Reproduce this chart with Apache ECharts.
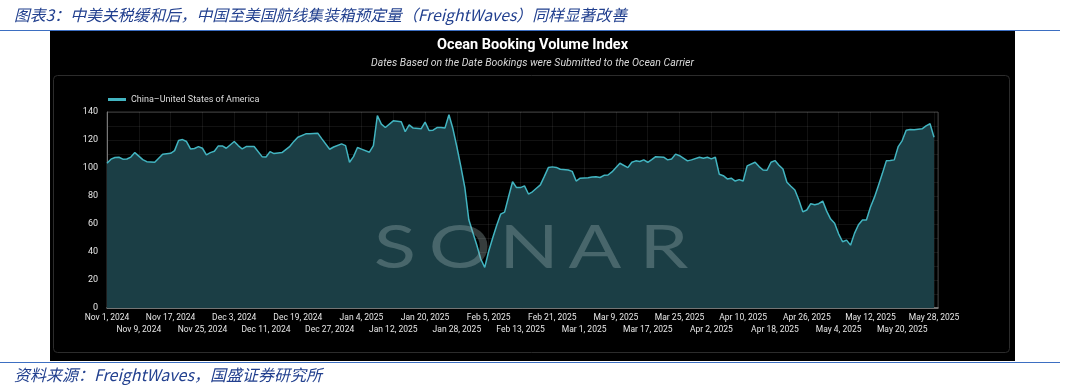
<!DOCTYPE html>
<html><head><meta charset="utf-8">
<script src="https://cdn.jsdelivr.net/npm/echarts@6/dist/echarts.min.js"></script>
<style>html,body{margin:0;padding:0;background:#fff}#c{width:1065px;height:388px}</style>
</head><body><div id="c"></div>
<script>
const captionText = '图表3：中美关税缓和后，中国至美国航线集装箱预定量（FreightWaves）同样显著改善';
const sourceText = '资料来源：FreightWaves，国盛证券研究所';
const chartTitle = 'Ocean Booking Volume Index';
const chartSubtitle = 'Dates Based on the Date Bookings were Submitted to the Ocean Carrier';
const seriesName = 'China–United States of America';
// day offsets from Nov 1, 2024
const days = [0,1,2,3,4,5,6,7,8,9,10,12,14,16,17,18,19,20,21,22,23,24,25,26,27,28,29,30,32,33,34,35,37,39,40,41,42,44,46,47,48,50,51,53,54,56,57,59,60,61,62,63,64,66,67,68,69,70,72,74,75,76,77,79,80,81,82,83,84,85,86,87,88,89,90,91,92,93,94,95,96,97,98,99,100,101,102,103,104,105,106,107,108,109,110,111,112,113,114,116,117,118,119,121,122,123,124,125,126,127,129,131,132,133,134,135,136,137,138,140,141,142,143,144,146,147,149,150,151,152,153,154,155,156,157,158,159,160,161,163,164,165,166,167,168,169,170,171,172,173,174,175,176,177,178,179,180,181,182,183,184,185,186,187,188,189,190,191,192,193,194,195,196,197,198,199,200,201,202,203,204,205,206,207,208];
const values = [103.4,106.3,107.5,107.7,106.3,106.4,107.8,111,108.5,106,104.5,104.1,109.8,110.5,112.4,119.6,120.3,118.9,113.6,113.9,115.3,114.1,109.4,111,112,115.8,115.8,114.1,118.9,116,113.6,115.3,115.3,108.1,107.9,111.7,110.3,111,115.5,119,122,124.4,124.4,124.9,121,113.4,115,117.2,116,104.1,108.1,114.6,113.5,111.3,116,137.5,131.3,128.9,133.7,133,126,130.8,128.5,128,132.8,126.8,127,128.9,129,128.5,138,128,115,101,86,63,54,45,35,29,40.5,50,59,67,68.5,79.5,90.2,86,86,87.2,81.4,83,85.5,87.9,94,100.3,100.8,100.4,99.1,98.6,97.6,90.7,92.7,93.1,93.6,93.8,93.2,94.8,95,97.2,103.4,100.3,104.1,105.1,104.6,105.8,104.1,106,108.1,107.7,105.8,106.5,109.9,108.8,105.1,105.8,107.7,107,107.7,106.5,107.7,95.5,94.5,92.2,92.7,90.7,91.7,90.7,101.5,104.1,101,98.6,98.4,104.1,105.3,102,99.3,89.8,87,84.3,77.1,68.7,70,74.5,73.8,74.5,76.4,69.2,63.5,60.5,53,47.3,48.5,44.9,53.3,59.5,62.8,62.8,72,79,87.4,96,105.1,105.4,105.8,115.3,119.6,127,127.5,127.3,127.7,128,130.1,131.6,122];
const xTickLabels = ['Nov 1, 2024','Nov 9, 2024','Nov 17, 2024','Nov 25, 2024','Dec 3, 2024','Dec 11, 2024','Dec 19, 2024','Dec 27, 2024','Jan 4, 2025','Jan 12, 2025','Jan 20, 2025','Jan 28, 2025','Feb 5, 2025','Feb 13, 2025','Feb 21, 2025','Mar 1, 2025','Mar 9, 2025','Mar 17, 2025','Mar 25, 2025','Apr 2, 2025','Apr 10, 2025','Apr 18, 2025','Apr 26, 2025','May 4, 2025','May 12, 2025','May 20, 2025','May 28, 2025'];
const watermarkLetters = ['S','O','N','A','R'];

const labelFont = 'Roboto, sans-serif';
const chart = echarts.init(document.getElementById('c'), null, {renderer:'canvas'});
const wmX = [395, 460, 529, 595, 664];

function xLabelFor(parity) {
  return function (v) {
    if (v % 8) return '';
    const k = v / 8;
    return (k % 2 === parity) ? (xTickLabels[k] || '') : '';
  };
}
function makeXAxis(parity, offset, main) {
  return {
    type:'value', min:0, max:209, interval:8, position:'bottom', offset: offset,
    axisLine:{show: main, onZero:false, lineStyle:{color:'#8c8c8c', width:1.5}},
    axisTick:{show:false},
    splitLine:{show: main, lineStyle:{color:'rgba(255,255,255,0.07)', width:1}},
    axisLabel:{
      color:'#e6e6e6', fontSize:8.5, fontFamily: labelFont, margin:5,
      showMinLabel:true, showMaxLabel:true, hideOverlap:false,
      formatter: xLabelFor(parity)
    }
  };
}
const option = {
  backgroundColor: '#ffffff',
  animation: false,
  title: {
    text: chartTitle, subtext: chartSubtitle, left: 'center', top: 33, itemGap: 5,
    textStyle: {color:'#ffffff', fontSize:14.5, fontWeight:'bold', fontFamily: labelFont},
    subtextStyle: {color:'#d8d8d8', fontSize:10.5, fontStyle:'italic', fontFamily: labelFont}
  },
  legend: {
    data: [seriesName], left: 103, top: 90, icon: 'rect', itemWidth: 18, itemHeight: 3, itemGap: 6,
    textStyle: {color:'#dddddd', fontSize:9, fontFamily: labelFont}
  },
  grid: {left:107, right:127, top:112, bottom:80, show:true, borderColor:'#3a3a3a', borderWidth:1, backgroundColor:'transparent'},
  xAxis: [makeXAxis(0, 0, true), makeXAxis(1, 12, false)],
  yAxis: {
    type:'value', min:0, max:140, interval:10,
    axisLine:{show:true, lineStyle:{color:'#777', width:1}},
    axisTick:{show:false},
    splitLine:{show:true, lineStyle:{color:'rgba(255,255,255,0.07)', width:1}},
    axisLabel:{color:'#e6e6e6', fontSize:9, fontFamily: labelFont, margin:9, showMinLabel:true, showMaxLabel:true,
      formatter: function(v){ return v % 20 ? '' : String(v); }}
  },
  series: [{
    name: seriesName, type:'line', xAxisIndex:0, data: days.map((d,i)=>[d, values[i]]),
    symbol:'none', smooth:false, z: 3,
    lineStyle:{color:'#42b4c0', width:1.5},
    itemStyle:{color:'#42b4c0'},
    areaStyle:{color:'#1b3e45', opacity:1}
  }],
  graphic: [
    {type:'rect', z:-10, shape:{x:50, y:31, width:965, height:330}, style:{fill:'#000000'}},
    {type:'rect', z:-9, shape:{x:53.5, y:75.5, width:956, height:277, r:4}, style:{fill:'none', stroke:'#2c2c2c', lineWidth:1}},
    {type:'line', z:-8, shape:{x1:0, y1:30.5, x2:1060, y2:30.5}, style:{stroke:'#3d6fc2', lineWidth:1}},
    {type:'line', z:-8, shape:{x1:0, y1:362.5, x2:1060, y2:362.5}, style:{stroke:'#3d6fc2', lineWidth:1}},
    {type:'text', z:5, x:14, y:15, style:{text:captionText, fill:'#22408f', font:'italic 15.8px "Noto Sans CJK SC"', textVerticalAlign:'middle', verticalAlign:'middle'}},
    {type:'text', z:5, x:14, y:375, style:{text:sourceText, fill:'#22408f', font:'italic 16px "Noto Sans CJK SC"', textVerticalAlign:'middle', verticalAlign:'middle'}}
  ].concat(watermarkLetters.map((ch, i) => ({
    type:'text', z:100, x: wmX[i], y: 249, scaleX: 1.3,
    style:{text: ch, fill:'rgba(165,185,185,0.33)', font:'normal 60px Lato', align:'center', verticalAlign:'middle', textAlign:'center', textVerticalAlign:'middle'}
  })))
};
chart.setOption(option);
</script>
</body></html>
